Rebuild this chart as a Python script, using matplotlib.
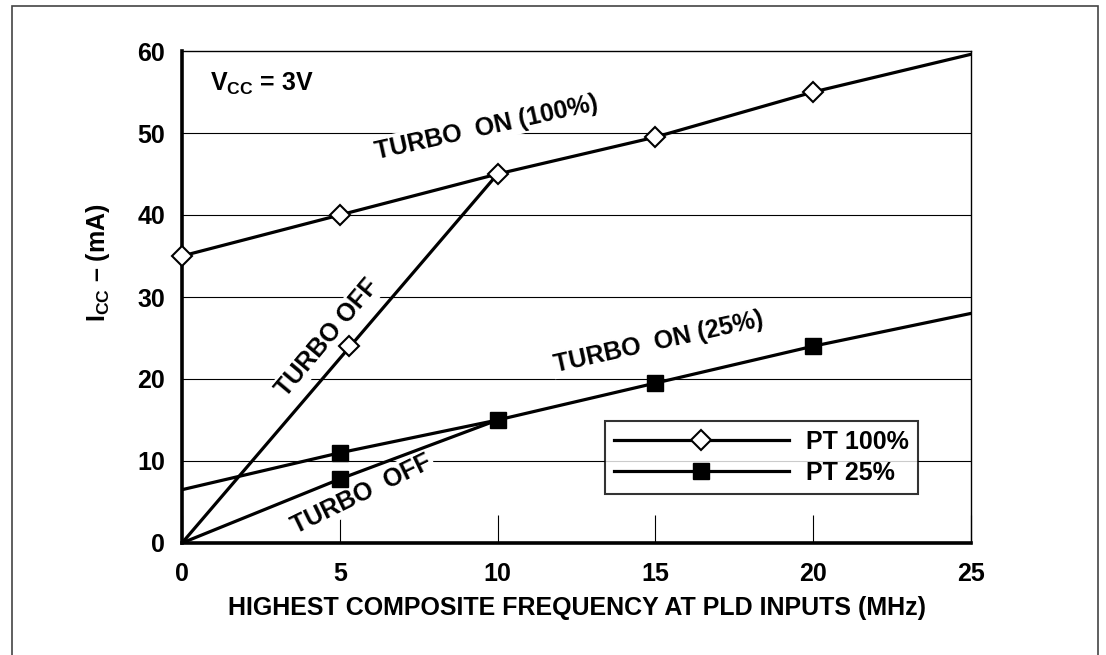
import numpy as np
import matplotlib.pyplot as plt
from matplotlib.patches import Rectangle

plt.rcParams['font.family'] = ['Liberation Sans', 'DejaVu Sans']
plt.rcParams['font.weight'] = 'bold'
plt.rcParams['axes.labelweight'] = 'bold'
plt.rcParams['mathtext.fontset'] = 'custom'
plt.rcParams['mathtext.rm'] = 'Liberation Sans:bold'
plt.rcParams['mathtext.bf'] = 'Liberation Sans:bold'

# PT 100%
freq_on = [0, 5, 10, 15, 20, 25]
icc100_on = [35, 40, 45, 49.5, 55, 59.6]
freq_off = [0, 10]
icc100_off = [0, 45]
off100_pt = [5.3]
off100_val = [24]

# PT 25%
icc25_on = [6.5, 11, 15, 19.5, 24, 28]
freq25_off = [0, 5, 10]
icc25_off = [0, 7.8, 15]

xticks = [0, 5, 10, 15, 20, 25]
yticks = [0, 10, 20, 30, 40, 50, 60]

W, H = 1106, 655
L, R, T, B = 182, 971, 51, 543

fig = plt.figure(figsize=(W / 100, H / 100), dpi=100)
ax = fig.add_axes([L / W, 1 - B / H, (R - L) / W, (B - T) / H])

# outer frame
fig.patches.append(Rectangle((12 / W, -0.05), (1098 - 12) / W, 1.05 - 6 / H,
                             transform=fig.transFigure, fill=False,
                             edgecolor='#444444', linewidth=1.2))

fs = 18
ax.set_xlim(0, 25)
ax.set_ylim(0, 60)
ax.set_xticks(xticks)
ax.set_yticks(yticks)
ax.tick_params(axis='x', direction='in', length=20, width=0.8, pad=14, labelsize=fs)
ax.tick_params(axis='y', length=0, pad=12, labelsize=fs)
for y in yticks[1:-1]:
    ax.axhline(y, color='black', linewidth=0.8, zorder=1)

for s in ['left', 'bottom']:
    ax.spines[s].set_linewidth(2.6)
for s in ['top', 'right']:
    ax.spines[s].set_linewidth(1.0)

lw = 2.3
ax.plot(freq_on, icc100_on, color='black', linewidth=lw, zorder=3)
ax.plot(freq_off, icc100_off, color='black', linewidth=lw, zorder=3)
ax.plot(freq_on, icc25_on, color='black', linewidth=lw, zorder=3)
ax.plot(freq25_off, icc25_off, color='black', linewidth=lw, zorder=3)

dkw = dict(linestyle='none', marker='D', markersize=10.5, markerfacecolor='white',
           markeredgecolor='black', markeredgewidth=1.5, zorder=4, clip_on=False)
skw = dict(linestyle='none', marker='s', markersize=11, color='black', zorder=4,
           clip_on=False)
ax.plot(freq_on[:-1], icc100_on[:-1], **dkw)
ax.plot(off100_pt, off100_val, **dkw)
ax.plot(freq_on[1:-1], icc25_on[1:-1], **skw)
ax.plot(freq25_off[1:2], icc25_off[1:2], **skw)

bb = dict(facecolor='white', edgecolor='none', pad=1.5)
ax.text(9.65, 50.7, 'TURBO  ON (100%)', rotation=12.5, fontsize=fs, ha='center',
        va='center', bbox=bb, zorder=2, rotation_mode='anchor')
ax.text(4.62, 25.0, 'TURBO OFF', rotation=50, fontsize=fs, ha='center',
        va='center', bbox=bb, zorder=2, rotation_mode='anchor')
ax.text(15.1, 24.5, 'TURBO  ON (25%)', rotation=12.5, fontsize=fs, ha='center',
        va='center', bbox=bb, zorder=2, rotation_mode='anchor')
ax.text(5.7, 6.0, 'TURBO  OFF', rotation=26, fontsize=fs, ha='center',
        va='center', bbox=bb, zorder=2, rotation_mode='anchor')
ax.text(0.9, 56.0, r'V$_{\mathrm{CC}}$ = 3V', fontsize=fs, ha='left', va='center',
        zorder=2)

ax.set_ylabel(r'I$_{\mathrm{CC}}$ – (mA)', fontsize=fs, va='center')
ax.yaxis.set_label_coords((98 - L) / (R - L), (B - 263) / (B - T))
ax.set_xlabel('HIGHEST COMPOSITE FREQUENCY AT PLD INPUTS (MHz)', fontsize=fs,
              va='center')
ax.xaxis.set_label_coords(0.5, (B - 608) / (B - T))

# legend
h1, = ax.plot([], [], color='black', linewidth=lw, marker='D', markersize=10.5,
              markerfacecolor='white', markeredgecolor='black', markeredgewidth=1.5)
h2, = ax.plot([], [], color='black', linewidth=lw, marker='s', markersize=11)
leg = ax.legend([h1, h2], ['PT 100%', 'PT 25%'], loc='upper left',
                bbox_to_anchor=((605 - L) / (R - L), (B - 421) / (B - T)),
                fontsize=fs, frameon=True, fancybox=False, handlelength=7.0,
                handletextpad=0.7, borderpad=0.35, labelspacing=0.28,
                borderaxespad=0)
leg.get_frame().set_edgecolor('black')
leg.get_frame().set_linewidth(1.5)
leg.set_zorder(5)

fig.savefig('out.png', dpi=100)
